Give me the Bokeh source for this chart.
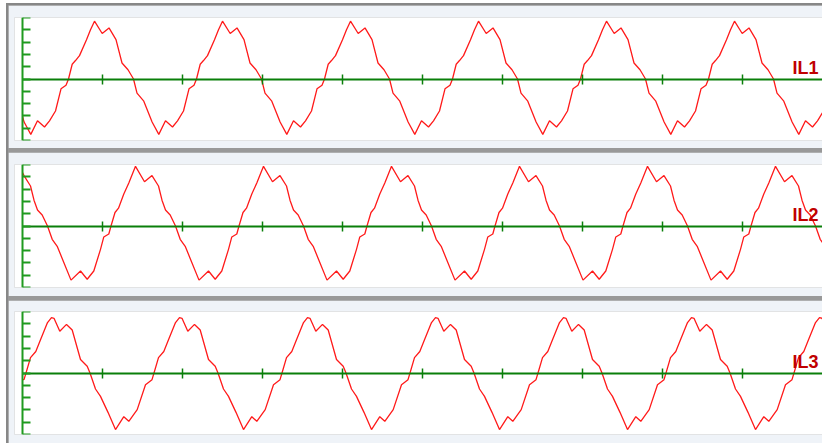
import numpy as np
from bokeh.plotting import figure
from bokeh.models import LinearAxis, FixedTicker, Label, Spacer
from bokeh.layouts import column, row
from bokeh.embed import file_html
from bokeh.resources import INLINE

# ---- data -----------------------------------------------------------------
names = ["IL1", "IL2", "IL3"]
period = 128.0            # x units per cycle
x_end = 800.0             # right end of the record
x_ticks = [80, 160, 240, 320, 400, 480, 560, 640, 720]
y_ticks = [-5, -4, -3, -2, -1, 0, 1, 2, 3, 4, 5]

# one cycle of each current, t measured from a rising zero crossing
il1_t = [0, 3.7, 7, 11, 18, 22, 26, 33.7, 40.5, 47.5, 53.5, 59.5, 65, 68.5, 75.3,
         83.6, 90.3, 97, 104, 109, 115, 120.5, 125.5]
il1_v = [0, 1.2, 1.5, 1.9, 3.2, 4.0, 4.7, 3.7, 4.15, 3.2, 1.3, 0.75, 0, -1.15, -1.8,
         -3.5, -4.5, -3.4, -3.9, -3.4, -2.6, -0.8, -0.5]
il1_rise = 46.0
il1_start = -3.03

il2_t = [0, 4, 7.5, 12.8, 17.8, 24.5, 33.5, 41, 47.5, 51, 54.5, 59.2, 64.5, 69.2, 74.2,
         80, 88, 97.5, 104.2, 110.8, 117.5, 120.8, 125.8]
il2_v = [0, 1.1, 1.45, 2.6, 3.5, 4.85, 3.6, 4.1, 3.25, 2.1, 1.3, 0.9, 0, -1.08, -1.65,
         -2.8, -4.4, -3.66, -4.33, -3.66, -1.9, -0.89, -0.65]
il2_rise = 88.5
il2_start = 4.34

il3_t = [0, 4.5, 9.8, 14.5, 21.5, 25.5, 28, 33.8, 40.5, 46.2, 54.5, 61.2, 64, 69.5, 74.5,
         82, 89.5, 97.8, 102.8, 111.2, 119.5, 126]
il3_v = [0, 1.25, 1.75, 2.7, 4.1, 4.5, 4.45, 3.4, 3.95, 3.5, 1.1, 0.55, 0, -1.3, -1.9,
         -3.2, -4.6, -3.55, -3.93, -2.98, -0.95, -0.54]
il3_rise = 3.5
il3_start = -0.54

cycles = [(il1_t, il1_v, il1_rise, il1_start),
          (il2_t, il2_v, il2_rise, il2_start),
          (il3_t, il3_v, il3_rise, il3_start)]

# ---- styling ---------------------------------------------------------------
RED = "#ff1a1a"
LABEL_RED = "#c00000"
AXIS_GREEN = "#1f9a1f"
ZERO_GREEN = "#0a7f0a"
BAND = "#eff3f8"
FRAME_GRAY = "#878787"

FIG_W = 814
LEFT_B = 6
borders = [(12, 8), (12, 9), (11, 9)]   # (top, bottom) border of each panel
FRAME_H = 123
LABEL_Y = 0.9


def build_series(ct, cv, rise, start_v):
    xs, ys = [0.0], [start_v]
    k = -1
    while rise + k * period <= x_end:
        base = rise + k * period
        for t, v in zip(ct, cv):
            x = base + t
            if x > 0:
                xs.append(x)
                ys.append(v)
        k += 1
    return xs, ys


figs = []
for name, (ct, cv, rise, sv), (bt, bb) in zip(names, cycles, borders):
    xs, ys = build_series(ct, cv, rise, sv)
    p = figure(width=FIG_W, height=bt + FRAME_H + bb,
               x_range=(-8, FIG_W - LEFT_B - 8), y_range=(-5, 5),
               x_axis_location=None, y_axis_location=None,
               toolbar_location=None, output_backend="svg",
               min_border_left=LEFT_B, min_border_right=0,
               min_border_top=bt, min_border_bottom=bb,
               background_fill_color="white", border_fill_color=BAND,
               outline_line_color=None)
    p.xgrid.visible = False
    p.ygrid.visible = False

    yax = LinearAxis(fixed_location=0, ticker=FixedTicker(ticks=y_ticks),
                     axis_line_color=AXIS_GREEN, axis_line_width=2,
                     major_tick_line_color=AXIS_GREEN, major_tick_line_width=2,
                     major_tick_in=8, major_tick_out=0,
                     minor_tick_line_color=None,
                     major_label_text_color=None)
    p.add_layout(yax, "left")

    xax = LinearAxis(fixed_location=0, ticker=FixedTicker(ticks=x_ticks),
                     bounds=(0, x_end),
                     axis_line_color=ZERO_GREEN, axis_line_width=2,
                     major_tick_line_color=ZERO_GREEN, major_tick_line_width=1.5,
                     major_tick_in=5, major_tick_out=5,
                     minor_tick_line_color=None,
                     major_label_text_color=None)
    p.add_layout(xax, "below")

    p.line(xs, ys, line_color=RED, line_width=1.3)

    p.add_layout(Label(x=x_end - 4, y=LABEL_Y, text=name,
                       text_align="right", text_baseline="alphabetic",
                       text_color=LABEL_RED, text_font="Liberation Sans",
                       text_font_style="bold", text_font_size="18px"))
    figs.append(p)

inner = column(*figs, spacing=4,
               styles={"border-left": f"2px solid {FRAME_GRAY}",
                       "border-top": f"2px solid {FRAME_GRAY}",
                       "background-color": "#999999"})
layout = column(Spacer(width=20, height=3),
                row(Spacer(width=6, height=20), inner, spacing=0),
                spacing=0)

open("out.html", "w").write(file_html(layout, INLINE))
